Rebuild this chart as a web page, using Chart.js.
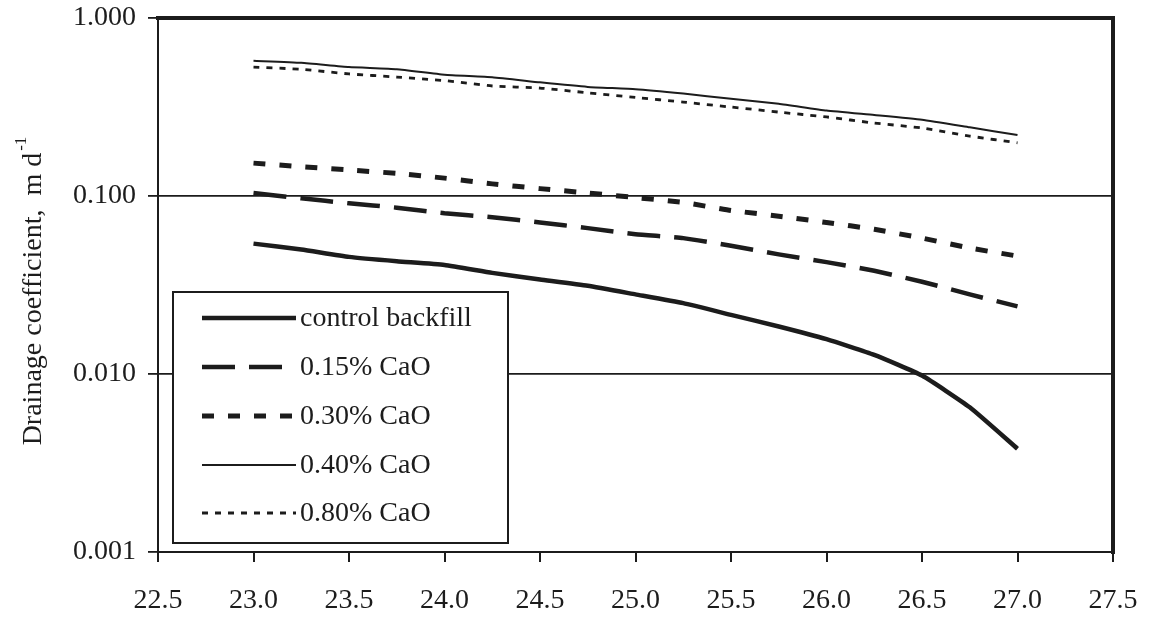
<!DOCTYPE html>
<html>
<head>
<meta charset="utf-8">
<script src="https://cdn.jsdelivr.net/npm/chart.js@4.4.0/dist/chart.umd.min.js"></script>
<style>
  html, body { margin: 0; padding: 0; background: #ffffff; }
  #wrap { width: 1153px; height: 617px; }
</style>
</head>
<body>
<div id="wrap"><canvas id="c" width="1153" height="617"></canvas></div>
<script>
// ---- data ----
const xValues = [23.0, 23.25, 23.5, 23.75, 24.0, 24.25, 24.5, 24.75, 25.0, 25.25, 25.5, 25.75, 26.0, 26.25, 26.5, 26.75, 27.0];

const controlBackfill = [0.054, 0.050, 0.0455, 0.043, 0.041, 0.037, 0.034, 0.0313, 0.028, 0.025, 0.0215, 0.0185, 0.0157, 0.0128, 0.0098, 0.0065, 0.0038];
const cao015 = [0.104, 0.097, 0.091, 0.086, 0.080, 0.076, 0.071, 0.066, 0.061, 0.058, 0.0525, 0.047, 0.0425, 0.038, 0.033, 0.028, 0.024];
const cao030 = [0.153, 0.146, 0.140, 0.134, 0.126, 0.117, 0.110, 0.104, 0.098, 0.092, 0.083, 0.077, 0.071, 0.065, 0.058, 0.051, 0.046];
const cao040 = [0.575, 0.560, 0.530, 0.515, 0.480, 0.465, 0.435, 0.410, 0.398, 0.376, 0.352, 0.330, 0.302, 0.285, 0.268, 0.243, 0.220];
const cao080 = [0.530, 0.515, 0.485, 0.466, 0.445, 0.415, 0.404, 0.380, 0.358, 0.337, 0.316, 0.296, 0.278, 0.257, 0.241, 0.217, 0.199];

const seriesLabels = ['control backfill', '0.15% CaO', '0.30% CaO', '0.40% CaO', '0.80% CaO'];

const yTickValues = [0.001, 0.01, 0.1, 1];
const yTickLabels = ['0.001', '0.010', '0.100', '1.000'];
const xTickValues = [22.5, 23.0, 23.5, 24.0, 24.5, 25.0, 25.5, 26.0, 26.5, 27.0, 27.5];
const xTickLabels = ['22.5', '23.0', '23.5', '24.0', '24.5', '25.0', '25.5', '26.0', '26.5', '27.0', '27.5'];

const yAxisTitle = 'Drainage coefficient,  m d';
const yAxisTitleSup = '-1';

// ---- styling ----
const INK = '#1c1c1c';
const FONT = '"Liberation Serif", "Times New Roman", serif';

function pts(vals) { return xValues.map((x, i) => ({ x: x, y: vals[i] })); }

const styles = [
  { width: 4.5, dash: [] },
  { width: 4.5, dash: [33, 14] },
  { width: 5, dash: [12, 14] },
  { width: 2, dash: [] },
  { width: 2.8, dash: [6, 7] }
];
const seriesValues = [controlBackfill, cao015, cao030, cao040, cao080];

const datasets = seriesValues.map((vals, i) => ({
  label: seriesLabels[i],
  data: pts(vals),
  borderColor: INK,
  backgroundColor: INK,
  borderWidth: styles[i].width,
  borderDash: styles[i].dash,
  borderCapStyle: 'butt',
  pointRadius: 0,
  pointHoverRadius: 0,
  fill: false,
  tension: 0.15
}));

// frame: thick top and right edges
const framePlugin = {
  id: 'frame',
  afterDatasetsDraw(chart) {
    const { ctx, chartArea: a } = chart;
    ctx.save();
    ctx.strokeStyle = INK;
    ctx.lineWidth = 4;
    ctx.lineCap = 'square';
    ctx.beginPath();
    ctx.moveTo(a.left, a.top);
    ctx.lineTo(a.right, a.top);
    ctx.lineTo(a.right, a.bottom);
    ctx.stroke();
    ctx.restore();
  }
};

// y axis title with superscript
const yTitlePlugin = {
  id: 'ytitle',
  afterDraw(chart) {
    const { ctx, chartArea: a } = chart;
    ctx.save();
    ctx.fillStyle = INK;
    ctx.translate(34, (a.top + a.bottom) / 2 + 6);
    ctx.rotate(-Math.PI / 2);
    ctx.font = '28px ' + FONT;
    const w1 = ctx.measureText(yAxisTitle).width;
    ctx.font = '17px ' + FONT;
    const w2 = ctx.measureText(yAxisTitleSup).width;
    const total = w1 + w2 + 2;
    ctx.textBaseline = 'middle';
    ctx.textAlign = 'left';
    ctx.font = '28px ' + FONT;
    ctx.fillText(yAxisTitle, -total / 2, 0);
    ctx.font = '17px ' + FONT;
    ctx.fillText(yAxisTitleSup, -total / 2 + w1 + 2, -12);
    ctx.restore();
  }
};

// legend box inside the plot
const legendPlugin = {
  id: 'boxLegend',
  afterDatasetsDraw(chart) {
    const { ctx } = chart;
    const box = { x: 173, y: 292, w: 335, h: 251 };
    ctx.save();
    ctx.fillStyle = '#ffffff';
    ctx.fillRect(box.x, box.y, box.w, box.h);
    ctx.strokeStyle = INK;
    ctx.lineWidth = 2;
    ctx.strokeRect(box.x, box.y, box.w, box.h);
    const rowY = [318, 367, 416, 465, 513];
    chart.data.datasets.forEach((ds, i) => {
      const y = rowY[i];
      ctx.strokeStyle = ds.borderColor;
      ctx.lineWidth = ds.borderWidth;
      ctx.setLineDash(ds.borderDash);
      ctx.lineCap = 'butt';
      ctx.beginPath();
      ctx.moveTo(202, y);
      ctx.lineTo(296, y);
      ctx.stroke();
      ctx.setLineDash([]);
      ctx.fillStyle = INK;
      ctx.font = '28px ' + FONT;
      ctx.textBaseline = 'middle';
      ctx.textAlign = 'left';
      ctx.fillText(ds.label, 300, y + 1);
    });
    ctx.restore();
  }
};

new Chart(document.getElementById('c'), {
  type: 'line',
  data: { datasets: datasets },
  plugins: [framePlugin, legendPlugin, yTitlePlugin],
  options: {
    responsive: false,
    animation: false,
    devicePixelRatio: 1,
    layout: { padding: { top: 18, right: 40, left: 0, bottom: 0 } },
    plugins: {
      legend: { display: false },
      tooltip: { enabled: false }
    },
    scales: {
      x: {
        type: 'linear',
        min: 22.5,
        max: 27.5,
        afterBuildTicks(scale) { scale.ticks = xTickValues.map(v => ({ value: v })); },
        afterFit(scale) { scale.height = 65; scale.paddingLeft = 0; scale.paddingRight = 0; },
        ticks: {
          color: INK,
          font: { family: FONT, size: 28 },
          padding: 22,
          maxRotation: 0,
          autoSkip: false,
          callback: (v) => { const i = xTickValues.indexOf(v); return i >= 0 ? xTickLabels[i] : ''; }
        },
        grid: { drawOnChartArea: false, drawTicks: true, tickLength: 10, color: INK, lineWidth: 2 },
        border: { display: true, color: INK, width: 2 }
      },
      y: {
        type: 'logarithmic',
        min: 0.001,
        max: 1,
        afterBuildTicks(scale) { scale.ticks = yTickValues.map(v => ({ value: v })); },
        afterFit(scale) { scale.width = 158; scale.paddingTop = 0; scale.paddingBottom = 0; },
        ticks: {
          color: INK,
          font: { family: FONT, size: 28 },
          padding: 12,
          autoSkip: false,
          callback: (v) => { const i = yTickValues.indexOf(v); return i >= 0 ? yTickLabels[i] : ''; }
        },
        grid: { drawOnChartArea: true, drawTicks: true, tickLength: 10, color: INK, lineWidth: 1.8 },
        border: { display: true, color: INK, width: 2 }
      }
    }
  }
});
</script>
</body>
</html>
